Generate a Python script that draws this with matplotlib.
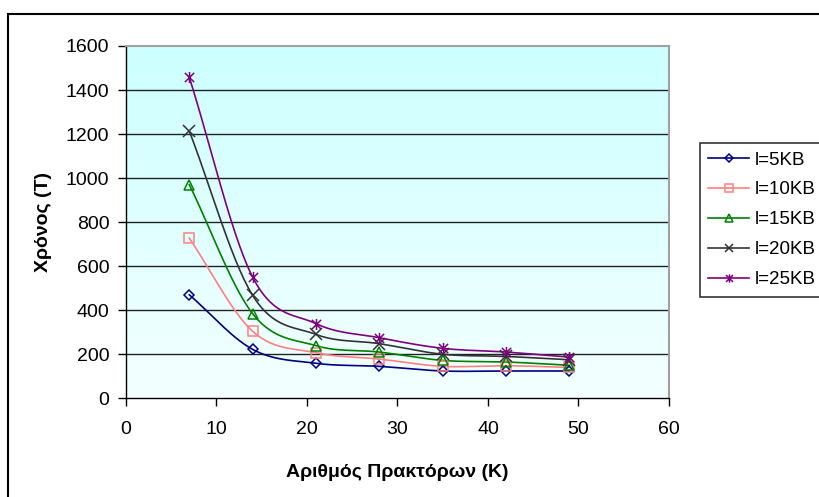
import numpy as np
import matplotlib
matplotlib.use("Agg")
import matplotlib.pyplot as plt
from matplotlib.path import Path
from matplotlib.patches import Rectangle
from matplotlib.colors import LinearSegmentedColormap

plt.rcParams['font.family'] = ['Liberation Sans', 'DejaVu Sans']

# Number of agents (K)
agents = [7, 14, 21, 28, 35, 42, 49]

# Time (T) per message size
series_labels = ['l=5KB', 'l=10KB', 'l=15KB', 'l=20KB', 'l=25KB']
time_5kb = [470, 222, 159, 145, 124, 124, 124]
time_10kb = [727, 304, 207, 178, 145, 148, 140]
time_15kb = [970, 384, 239, 210, 172, 165, 150]
time_20kb = [1213, 467, 290, 248, 200, 190, 175]
time_25kb = [1457, 550, 339, 275, 227, 210, 187]
series_values = [time_5kb, time_10kb, time_15kb, time_20kb, time_25kb]

x_ticks = [0, 10, 20, 30, 40, 50, 60]
y_ticks = [0, 200, 400, 600, 800, 1000, 1200, 1400, 1600]

# Excel-style "star" marker: an x with a vertical bar through it
star_path = Path(
    [(-1, -1), (1, 1), (-1, 1), (1, -1), (0, -1.2), (0, 1.2)],
    [Path.MOVETO, Path.LINETO, Path.MOVETO, Path.LINETO, Path.MOVETO, Path.LINETO],
)

colors = ['#000080', '#FF8080', '#008000', '#333333', '#800080']
markers = ['D', 's', '^', 'x', star_path]
msizes = [5, 7, 7, 8, 8]


def smooth(xs, ys, n=30):
    """Catmull-Rom spline through the points (like Excel's smoothed line)."""
    xs = np.asarray(xs, float)
    ys = np.asarray(ys, float)
    px = np.concatenate([[2 * xs[0] - xs[1]], xs, [2 * xs[-1] - xs[-2]]])
    py = np.concatenate([[2 * ys[0] - ys[1]], ys, [2 * ys[-1] - ys[-2]]])
    outx, outy = [], []
    t = np.linspace(0, 1, n)
    for i in range(1, len(px) - 2):
        for p, out in ((px, outx), (py, outy)):
            p0, p1, p2, p3 = p[i - 1], p[i], p[i + 1], p[i + 2]
            seg = 0.5 * ((2 * p1) + (-p0 + p2) * t
                         + (2 * p0 - 5 * p1 + 4 * p2 - p3) * t ** 2
                         + (-p0 + 3 * p1 - 3 * p2 + p3) * t ** 3)
            out.extend(seg if i == 1 else seg[1:])
    return np.array(outx), np.array(outy)


W, H = 820, 497
fig = plt.figure(figsize=(W / 100, H / 100), dpi=100)
fig.patch.set_facecolor('white')

# Chart-area border
fig.add_artist(Rectangle((8 / W, -0.1), 1.2, 1 - 14 / H + 0.1,
                         transform=fig.transFigure, fill=False,
                         edgecolor='black', linewidth=1.5))

left, right = 126 / W, 669 / W
bottom, top = 1 - 398.3 / H, 1 - 46 / H
ax = fig.add_axes([left, bottom, right - left, top - bottom])

# Vertical gradient for the plot area
cmap = LinearSegmentedColormap.from_list('bg', ['#F4FFFF', '#CCFFFF'])
grad = np.linspace(0, 1, 256).reshape(-1, 1)
ax.imshow(grad, aspect='auto', cmap=cmap, origin='lower',
          extent=[0, 60, 0, 1600], zorder=0)

ax.set_xlim(0, 60)
ax.set_ylim(0, 1600)
ax.set_xticks(x_ticks)
ax.set_yticks(y_ticks)

for yv in y_ticks[1:-1]:
    ax.axhline(yv, color='#222222', linewidth=1.0, zorder=1)

for vals, lab, c, m, ms in zip(series_values, series_labels, colors, markers, msizes):
    sx, sy = smooth(agents, vals)
    ax.plot(sx, sy, color=c, linewidth=1.2, zorder=3)
    ax.plot(agents, vals, linestyle='none', marker=m, markersize=ms,
            markerfacecolor='none', markeredgecolor=c, markeredgewidth=1.1, zorder=4)
    # legend proxy
    ax.plot([], [], color=c, linewidth=1.2, marker=m, markersize=ms * 0.75,
            markerfacecolor='none', markeredgecolor=c, markeredgewidth=1.1, label=lab)

for side in ('top', 'right'):
    ax.spines[side].set_color('#A0A0A0')
    ax.spines[side].set_linewidth(1.5)
for side in ('left', 'bottom'):
    ax.spines[side].set_color('black')
    ax.spines[side].set_linewidth(1.0)

ax.tick_params(axis='both', direction='out', length=6, width=1, color='black',
               labelsize=14, pad=6)
ax.tick_params(axis='x', pad=10)

ax.set_xlabel('Αριθμός Πρακτόρων (K)', fontsize=14, fontweight='bold', labelpad=19)
ax.set_ylabel('Χρόνος (T)', fontsize=14, fontweight='bold', labelpad=10)

leg = fig.legend(loc='upper left', bbox_to_anchor=(700 / W, 1 - 143 / H),
                 frameon=True, fancybox=False, edgecolor='black', fontsize=13.5,
                 handlelength=2.15, handletextpad=0.3, labelspacing=0.68,
                 borderpad=0.45, borderaxespad=0)
leg.get_frame().set_linewidth(1.2)

fig.savefig('out.png', dpi=100)
